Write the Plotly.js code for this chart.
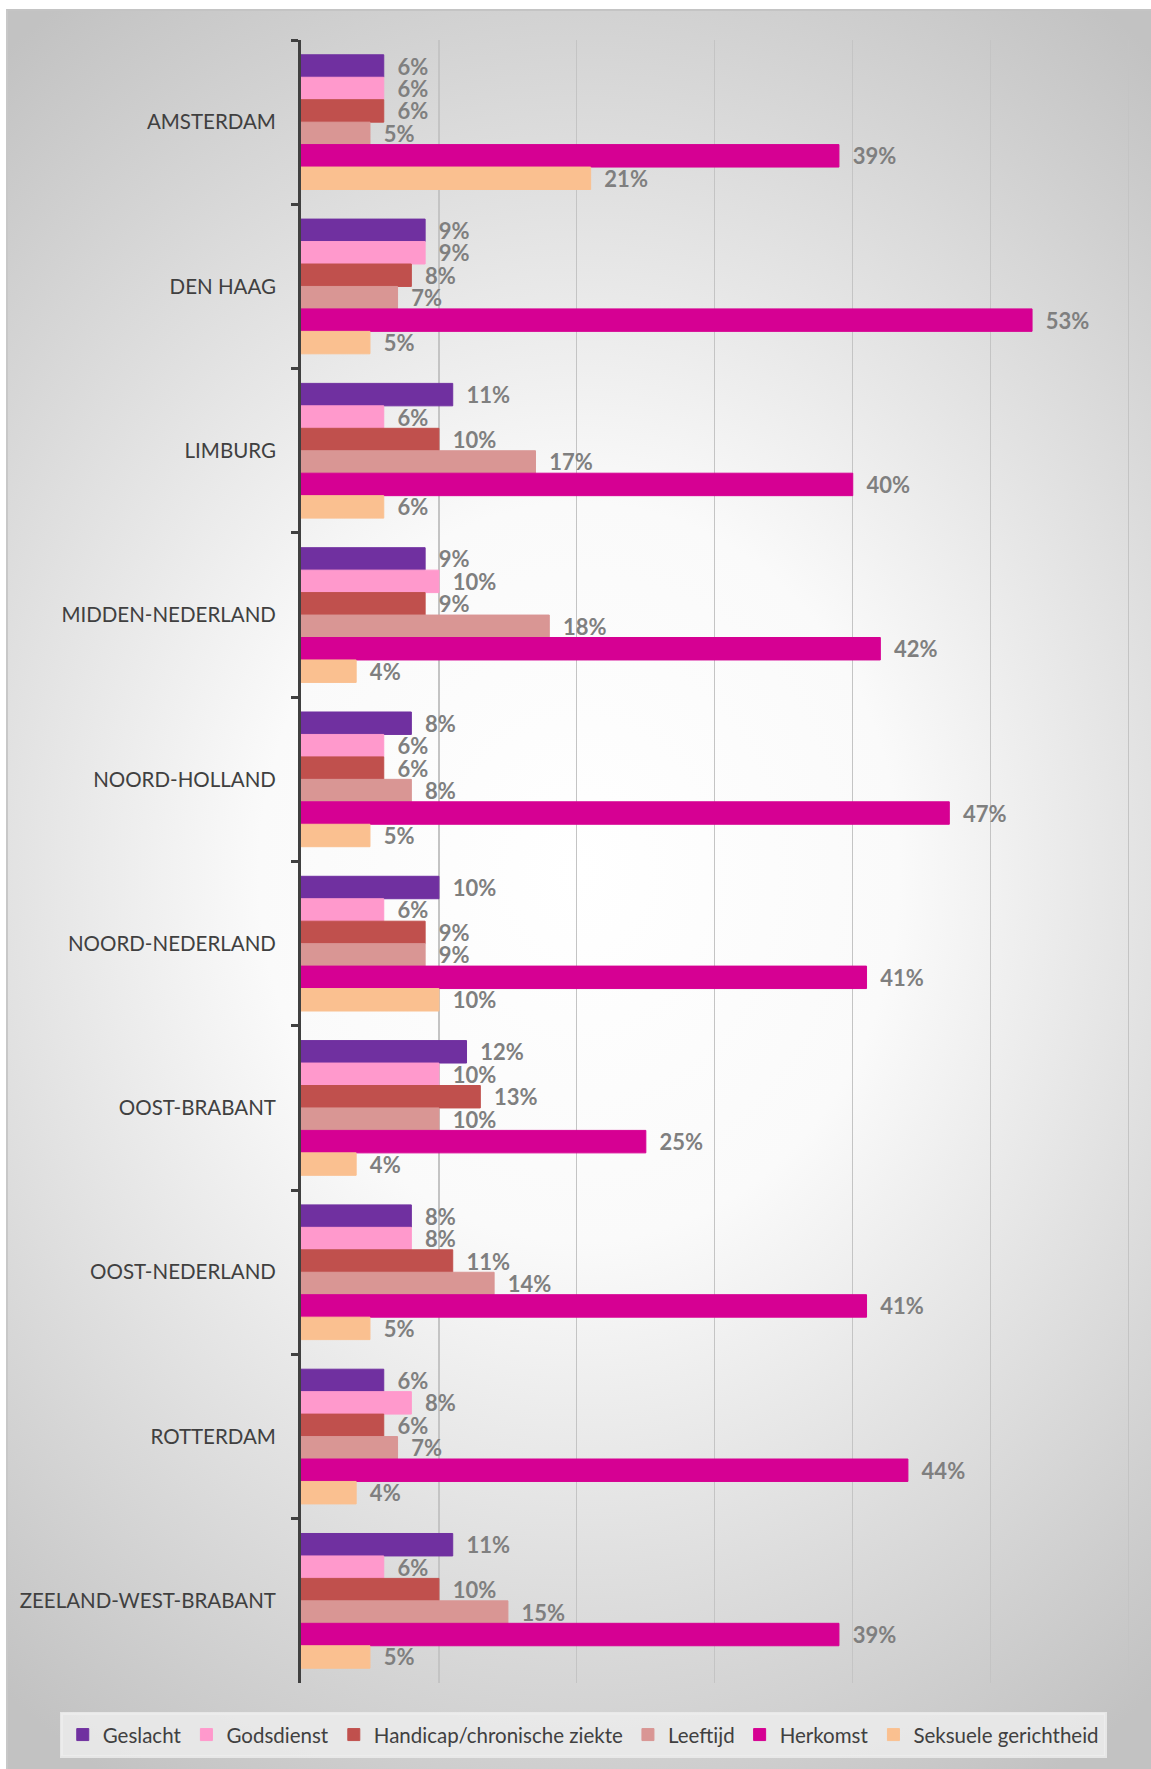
<!DOCTYPE html>
<html><head><meta charset="utf-8">
<script src="https://cdn.plot.ly/plotly-3.0.1.min.js"></script>
<style>
html,body{margin:0;padding:0;background:#fff;width:1151px;height:1769px;overflow:hidden;}
#bg{position:absolute;left:6px;top:9px;width:1145px;height:1760px;box-sizing:border-box;border-top:2px solid #c4c4c4;border-left:2px solid #c8c8c8;
background:radial-gradient(ellipse 80% 60% at 50% 49%, #ffffff 0%, #fafafa 35%, #c2c2c2 100%);}
#chart{position:absolute;left:0;top:0;width:1151px;height:1769px;}
</style></head>
<body>
<div id="bg"></div>
<div id="chart"></div>
<script>
const regions = ['AMSTERDAM','DEN HAAG','LIMBURG','MIDDEN-NEDERLAND','NOORD-HOLLAND','NOORD-NEDERLAND','OOST-BRABANT','OOST-NEDERLAND','ROTTERDAM','ZEELAND-WEST-BRABANT'];
const seriesNames = ['Geslacht','Godsdienst','Handicap/chronische ziekte','Leeftijd','Herkomst','Seksuele gerichtheid'];
const geslacht   = [6, 9, 11, 9, 8, 10, 12, 8, 6, 11];
const godsdienst = [6, 9, 6, 10, 6, 6, 10, 8, 8, 6];
const handicap   = [6, 8, 10, 9, 6, 9, 13, 11, 6, 10];
const leeftijd   = [5, 7, 17, 18, 8, 9, 10, 14, 7, 15];
const herkomst   = [39, 53, 40, 42, 47, 41, 25, 41, 44, 39];
const seksuele   = [21, 5, 6, 4, 5, 10, 4, 5, 4, 5];
const seriesValues = [geslacht, godsdienst, handicap, leeftijd, herkomst, seksuele];
const colors = ['#7030a0','#ff99cc','#c0504d','#d99694','#d60093','#fac090'];

const traces = seriesNames.map((name, i) => ({
  type: 'bar',
  orientation: 'h',
  name: name,
  y: regions,
  x: seriesValues[i],
  text: seriesValues[i].map(v => '\u00a0\u00a0' + v + '%'),
  textposition: 'outside',
  constraintext: 'none',
  cliponaxis: false,
  textfont: {family: 'Lato', size: 22, color: '#7f7f7f', weight: 'bold'},
  marker: {color: colors[i], line: {width: 1, color: colors[i]}},
  hoverinfo: 'skip'
}));

const layout = {
  width: 1151, height: 1769,
  paper_bgcolor: 'rgba(0,0,0,0)',
  plot_bgcolor: 'rgba(0,0,0,0)',
  margin: {l: 301, r: 21, t: 40, b: 86, autoexpand: false},
  barmode: 'group',
  bargap: 0.18,
  bargroupgap: 0,
  font: {family: 'Lato', color: '#404040'},
  xaxis: {
    range: [0, 60.1], dtick: 10, tick0: 0,
    showticklabels: false, ticks: '',
    showgrid: true, gridcolor: '#c4c4c4', gridwidth: 1.2,
    zeroline: false, showline: false, fixedrange: true
  },
  yaxis: {
    type: 'category', autorange: 'reversed',
    ticks: 'outside', tickson: 'boundaries', ticklen: 7, tickwidth: 3, tickcolor: '#404040',
    showline: true, linewidth: 3, linecolor: '#404040',
    showgrid: false, zeroline: false,
    tickfont: {family: 'Lato', size: 20.5, color: '#404040'},
    ticklabelstandoff: 18, fixedrange: true
  },
  showlegend: true,
  legend: {
    orientation: 'h', traceorder: 'normal',
    xref: 'paper', yref: 'paper',
    x: -0.291, xanchor: 'left', y: -0.0175, yanchor: 'top',
    bgcolor: 'rgba(236,236,236,0.85)', bordercolor: 'rgba(236,236,236,0.85)', borderwidth: 3,
    font: {family: 'Lato', size: 20.5, color: '#404040'},
    itemwidth: 30, itemclick: false, itemdoubleclick: false
  }
};

Plotly.newPlot('chart', traces, layout, {displayModeBar: false, staticPlot: true});
</script>
</body></html>
